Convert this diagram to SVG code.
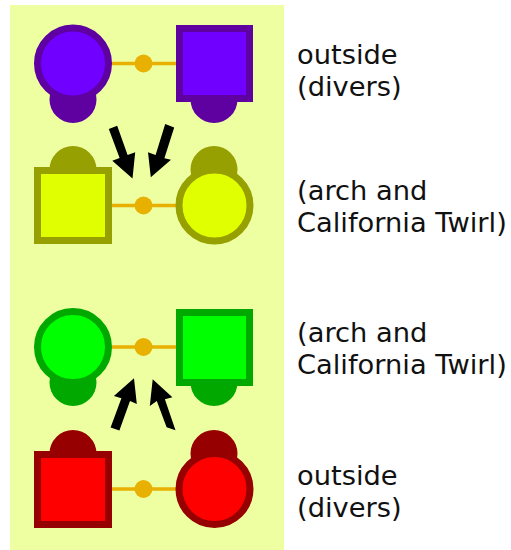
<svg xmlns="http://www.w3.org/2000/svg" width="511" height="550" viewBox="0 0 511 550">
<defs><filter id="soft" x="-5%" y="-5%" width="110%" height="110%"><feGaussianBlur stdDeviation="0.45"/></filter></defs>
<style>
.t{font-family:"DejaVu Sans",Verdana,sans-serif;font-size:27.3px;fill:#111}
.ln{stroke:#e8b000;stroke-width:3.5;fill:none}
.dot{fill:#e8b000}
.arr{fill:#000}
.n{filter:url(#soft)}
.p .k{fill:#5e00a0}.p .b{stroke:#5e00a0;fill:#7000ff}
.y .k{fill:#96a000}.y .b{stroke:#96a000;fill:#e0ff00}
.g .k{fill:#00a800}.g .b{stroke:#00a800;fill:#00ff00}
.r .k{fill:#960000}.r .b{stroke:#960000;fill:#ff0000}
.b{stroke-width:7}
</style>
<rect id="panel" x="10" y="5" width="274" height="545" fill="#eeffa2"/>
<g id="connectors" class="n">
<path class="ln" d="M112 63.5H176M112 205.5H176M112 347H176M112 489H176"/>
<circle class="dot" cx="143.5" cy="63.5" r="9"/>
<circle class="dot" cx="143.5" cy="205.5" r="9"/>
<circle class="dot" cx="143.5" cy="347" r="9"/>
<circle class="dot" cx="143.5" cy="489" r="9"/>
<polygon class="arr" points="108.8,129 117.2,125.8 127.6,155 135.2,152.2 132.5,178.5 112.3,160.8 119.6,158"/>
<polygon class="arr" points="165.2,124 174.2,127.4 164.4,158.2 171,159.8 150.8,177.2 148,152.3 155.6,155"/>
<polygon class="arr" points="110.6,427.5 119.4,430.5 130,401 136.8,404 134,378.2 113.9,396 121.4,398.3"/>
<polygon class="arr" points="175.5,430.3 166.6,427.3 156.8,401 149.8,406 152.7,379.2 172.4,397.3 164.9,399.3"/>
</g>
<g id="node-purple-female" class="p n"><circle class="k" cx="73" cy="99.5" r="23.5"/><circle class="b" cx="73" cy="63.5" r="35.5"/></g>
<g id="node-purple-male" class="p n"><circle class="k" cx="214" cy="99.5" r="23.5"/><rect class="b" x="179.5" y="28.5" width="70" height="70"/></g>
<g id="node-yellow-male" class="y n"><circle class="k" cx="73" cy="169.5" r="23.5"/><rect class="b" x="37.5" y="170.5" width="71" height="70"/></g>
<g id="node-yellow-female" class="y n"><circle class="k" cx="214" cy="169.5" r="23.5"/><circle class="b" cx="214.5" cy="205.5" r="35.5"/></g>
<g id="node-green-female" class="g n"><circle class="k" cx="73" cy="382.5" r="23.5"/><circle class="b" cx="73" cy="347" r="35.5"/></g>
<g id="node-green-male" class="g n"><circle class="k" cx="214" cy="382.5" r="23.5"/><rect class="b" x="179.5" y="312.5" width="70" height="70"/></g>
<g id="node-red-male" class="r n"><circle class="k" cx="73" cy="453.5" r="23.5"/><rect class="b" x="37.5" y="454.5" width="71" height="70"/></g>
<g id="node-red-female" class="r n"><circle class="k" cx="214" cy="453.5" r="23.5"/><circle class="b" cx="214.5" cy="489" r="35.5"/></g>
<g id="labels">
<text class="t" x="297" y="63.5">outside</text><text class="t" x="297" y="95.5">(divers)</text>
<text class="t" x="297" y="199.5">(arch and</text><text class="t" x="297" y="231.5">California Twirl)</text>
<text class="t" x="297" y="341.5">(arch and</text><text class="t" x="297" y="373.5">California Twirl)</text>
<text class="t" x="297" y="484.5">outside</text><text class="t" x="297" y="516.5">(divers)</text>
</g>
</svg>
